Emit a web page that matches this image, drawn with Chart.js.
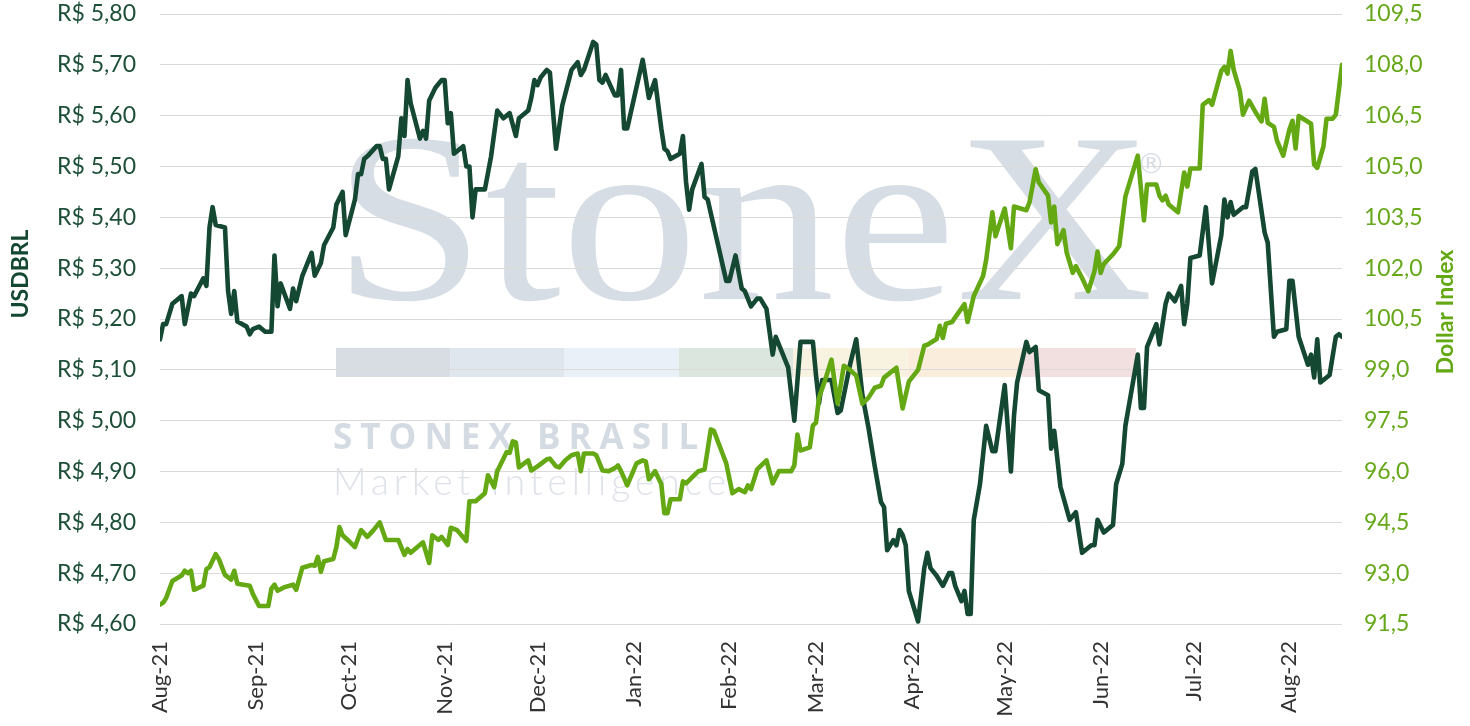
<!DOCTYPE html>
<html>
<head>
<meta charset="utf-8">
<title>USDBRL x Dollar Index</title>
<script src="https://cdn.jsdelivr.net/npm/chart.js@4.4.1/dist/chart.umd.min.js"></script>
<style>
  html, body { margin: 0; padding: 0; background: #ffffff; }
  #wrap { width: 1470px; height: 726px; }
</style>
</head>
<body>
<div id="wrap"><canvas id="chart" width="1470" height="726"></canvas></div>
<script>
// x axis: month labels and where they sit
const monthStarts = ["2021-08-01", "2021-09-01", "2021-10-01", "2021-11-01", "2021-12-01", "2022-01-01",
    "2022-02-01", "2022-03-01", "2022-04-01", "2022-05-01", "2022-06-01", "2022-07-01", "2022-08-01"]
const monthLabels = ["Aug-21", "Sep-21", "Oct-21", "Nov-21", "Dec-21", "Jan-22",
    "Feb-22", "Mar-22", "Apr-22", "May-22", "Jun-22", "Jul-22", "Aug-22"]

// USDBRL (left axis, R$)
const brlDates = [
    "2021-08-01", "2021-08-02", "2021-08-03", "2021-08-05", "2021-08-08", "2021-08-09", "2021-08-11", "2021-08-12",
    "2021-08-15", "2021-08-16", "2021-08-17", "2021-08-18", "2021-08-19", "2021-08-22", "2021-08-23", "2021-08-24",
    "2021-08-25", "2021-08-26", "2021-08-29", "2021-08-30", "2021-08-31", "2021-09-02", "2021-09-04", "2021-09-06",
    "2021-09-07", "2021-09-08", "2021-09-09", "2021-09-12", "2021-09-13", "2021-09-14", "2021-09-16", "2021-09-19",
    "2021-09-20", "2021-09-22", "2021-09-23", "2021-09-26", "2021-09-27", "2021-09-29", "2021-09-30", "2021-10-03",
    "2021-10-04", "2021-10-05", "2021-10-06", "2021-10-07", "2021-10-10", "2021-10-11", "2021-10-12", "2021-10-13",
    "2021-10-14", "2021-10-17", "2021-10-18", "2021-10-19", "2021-10-20", "2021-10-21", "2021-10-24", "2021-10-25",
    "2021-10-26", "2021-10-27", "2021-10-29", "2021-10-31", "2021-11-01", "2021-11-02", "2021-11-03", "2021-11-04",
    "2021-11-07", "2021-11-08", "2021-11-09", "2021-11-10", "2021-11-11", "2021-11-14", "2021-11-16", "2021-11-18",
    "2021-11-20", "2021-11-22", "2021-11-24", "2021-11-25", "2021-11-28", "2021-11-29", "2021-11-30", "2021-12-01",
    "2021-12-02", "2021-12-04", "2021-12-05", "2021-12-07", "2021-12-09", "2021-12-12", "2021-12-14", "2021-12-15",
    "2021-12-16", "2021-12-19", "2021-12-20", "2021-12-21", "2021-12-22", "2021-12-23", "2021-12-26", "2021-12-27",
    "2021-12-28", "2021-12-29", "2021-12-30", "2022-01-04", "2022-01-06", "2022-01-08", "2022-01-10", "2022-01-11",
    "2022-01-12", "2022-01-13", "2022-01-16", "2022-01-17", "2022-01-18", "2022-01-19", "2022-01-20", "2022-01-23",
    "2022-01-24", "2022-01-25", "2022-01-28", "2022-01-31", "2022-02-01", "2022-02-03", "2022-02-05", "2022-02-06",
    "2022-02-08", "2022-02-10", "2022-02-11", "2022-02-13", "2022-02-15", "2022-02-16", "2022-02-18", "2022-02-20",
    "2022-02-22", "2022-02-24", "2022-02-28", "2022-03-01", "2022-03-02", "2022-03-03", "2022-03-06", "2022-03-08",
    "2022-03-09", "2022-03-12", "2022-03-14", "2022-03-16", "2022-03-18", "2022-03-20", "2022-03-22", "2022-03-23",
    "2022-03-24", "2022-03-26", "2022-03-27", "2022-03-28", "2022-03-29", "2022-03-30", "2022-03-31", "2022-04-03",
    "2022-04-05", "2022-04-06", "2022-04-07", "2022-04-09", "2022-04-11", "2022-04-13", "2022-04-14", "2022-04-15",
    "2022-04-17", "2022-04-18", "2022-04-19", "2022-04-20", "2022-04-21", "2022-04-23", "2022-04-25", "2022-04-27",
    "2022-04-28", "2022-05-01", "2022-05-03", "2022-05-04", "2022-05-05", "2022-05-08", "2022-05-09", "2022-05-11",
    "2022-05-12", "2022-05-15", "2022-05-16", "2022-05-17", "2022-05-19", "2022-05-22", "2022-05-24", "2022-05-26",
    "2022-05-29", "2022-05-30", "2022-05-31", "2022-06-02", "2022-06-05", "2022-06-06", "2022-06-08", "2022-06-09",
    "2022-06-13", "2022-06-14", "2022-06-15", "2022-06-16", "2022-06-19", "2022-06-20", "2022-06-22", "2022-06-23",
    "2022-06-25", "2022-06-27", "2022-06-28", "2022-06-29", "2022-06-30", "2022-07-03", "2022-07-05", "2022-07-07",
    "2022-07-10", "2022-07-11", "2022-07-12", "2022-07-13", "2022-07-14", "2022-07-17", "2022-07-18", "2022-07-20",
    "2022-07-21", "2022-07-24", "2022-07-25", "2022-07-27", "2022-07-28", "2022-07-31", "2022-08-01", "2022-08-02",
    "2022-08-04", "2022-08-07", "2022-08-08", "2022-08-09", "2022-08-10", "2022-08-11", "2022-08-14", "2022-08-16",
    "2022-08-17", "2022-08-18"]
const brlValues = [
    5.16, 5.19, 5.19, 5.23, 5.245, 5.19, 5.25, 5.245,
    5.28, 5.265, 5.38, 5.42, 5.385, 5.38, 5.255, 5.21,
    5.255, 5.195, 5.185, 5.17, 5.18, 5.185, 5.175, 5.175,
    5.325, 5.225, 5.27, 5.22, 5.26, 5.235, 5.285, 5.33,
    5.285, 5.31, 5.345, 5.38, 5.425, 5.45, 5.365, 5.435,
    5.485, 5.485, 5.515, 5.52, 5.54, 5.54, 5.515, 5.515,
    5.455, 5.52, 5.595, 5.56, 5.67, 5.625, 5.555, 5.57,
    5.555, 5.63, 5.655, 5.67, 5.67, 5.585, 5.605, 5.525,
    5.54, 5.50, 5.50, 5.40, 5.455, 5.455, 5.52, 5.61,
    5.595, 5.605, 5.56, 5.595, 5.61, 5.635, 5.67, 5.66,
    5.675, 5.69, 5.685, 5.535, 5.62, 5.69, 5.705, 5.68,
    5.69, 5.745, 5.74, 5.67, 5.665, 5.68, 5.64, 5.64,
    5.69, 5.575, 5.575, 5.71, 5.635, 5.67, 5.575, 5.535,
    5.53, 5.515, 5.525, 5.56, 5.47, 5.415, 5.455, 5.505,
    5.44, 5.435, 5.355, 5.275, 5.275, 5.325, 5.26, 5.255,
    5.225, 5.24, 5.24, 5.22, 5.13, 5.165, 5.135, 5.105,
    5.00, 5.155, 5.155, 5.09, 5.035, 5.08, 5.08, 5.015,
    5.02, 5.11, 5.16, 5.05, 4.985, 4.91, 4.84, 4.83,
    4.745, 4.765, 4.755, 4.785, 4.775, 4.755, 4.665, 4.605,
    4.71, 4.74, 4.71, 4.695, 4.675, 4.70, 4.70, 4.675,
    4.645, 4.665, 4.62, 4.62, 4.805, 4.875, 4.99, 4.94,
    4.94, 5.07, 4.90, 5.01, 5.075, 5.155, 5.135, 5.145,
    5.06, 5.05, 4.945, 4.98, 4.87, 4.805, 4.82, 4.74,
    4.755, 4.755, 4.805, 4.78, 4.795, 4.875, 4.915, 4.99,
    5.13, 5.025, 5.025, 5.145, 5.19, 5.15, 5.23, 5.25,
    5.235, 5.265, 5.19, 5.23, 5.32, 5.325, 5.42, 5.27,
    5.365, 5.435, 5.40, 5.43, 5.405, 5.42, 5.42, 5.49,
    5.495, 5.37, 5.35, 5.165, 5.175, 5.18, 5.275, 5.275,
    5.165, 5.11, 5.13, 5.085, 5.16, 5.075, 5.09, 5.165,
    5.17, 5.165]

// Dollar Index (right axis)
const dxyDates = [
    "2021-08-01", "2021-08-02", "2021-08-03", "2021-08-05", "2021-08-08", "2021-08-09", "2021-08-10", "2021-08-11",
    "2021-08-12", "2021-08-15", "2021-08-16", "2021-08-17", "2021-08-19", "2021-08-20", "2021-08-22", "2021-08-24",
    "2021-08-25", "2021-08-26", "2021-08-30", "2021-08-31", "2021-09-02", "2021-09-05", "2021-09-06", "2021-09-07",
    "2021-09-08", "2021-09-10", "2021-09-13", "2021-09-14", "2021-09-16", "2021-09-19", "2021-09-20", "2021-09-21",
    "2021-09-22", "2021-09-23", "2021-09-26", "2021-09-27", "2021-09-28", "2021-09-29", "2021-10-01", "2021-10-03",
    "2021-10-05", "2021-10-07", "2021-10-09", "2021-10-11", "2021-10-13", "2021-10-17", "2021-10-19", "2021-10-20",
    "2021-10-21", "2021-10-25", "2021-10-27", "2021-10-28", "2021-10-30", "2021-10-31", "2021-11-02", "2021-11-03",
    "2021-11-05", "2021-11-08", "2021-11-09", "2021-11-11", "2021-11-14", "2021-11-15", "2021-11-17", "2021-11-18",
    "2021-11-21", "2021-11-22", "2021-11-23", "2021-11-24", "2021-11-25", "2021-11-28", "2021-11-29", "2021-12-01",
    "2021-12-04", "2021-12-05", "2021-12-07", "2021-12-08", "2021-12-10", "2021-12-12", "2021-12-14", "2021-12-15",
    "2021-12-16", "2021-12-19", "2021-12-20", "2021-12-22", "2021-12-24", "2021-12-26", "2021-12-27", "2021-12-28",
    "2021-12-30", "2022-01-02", "2022-01-04", "2022-01-05", "2022-01-06", "2022-01-08", "2022-01-10", "2022-01-11",
    "2022-01-12", "2022-01-13", "2022-01-16", "2022-01-17", "2022-01-18", "2022-01-22", "2022-01-24", "2022-01-26",
    "2022-01-27", "2022-01-30", "2022-01-31", "2022-02-02", "2022-02-04", "2022-02-06", "2022-02-07", "2022-02-08",
    "2022-02-10", "2022-02-13", "2022-02-15", "2022-02-17", "2022-02-21", "2022-02-22", "2022-02-23", "2022-02-24",
    "2022-02-27", "2022-02-28", "2022-03-01", "2022-03-02", "2022-03-04", "2022-03-06", "2022-03-08", "2022-03-10",
    "2022-03-12", "2022-03-14", "2022-03-16", "2022-03-18", "2022-03-20", "2022-03-22", "2022-03-23", "2022-03-27",
    "2022-03-29", "2022-03-31", "2022-04-03", "2022-04-05", "2022-04-06", "2022-04-09", "2022-04-10", "2022-04-11",
    "2022-04-12", "2022-04-14", "2022-04-15", "2022-04-18", "2022-04-19", "2022-04-21", "2022-04-24", "2022-04-25",
    "2022-04-27", "2022-04-28", "2022-05-01", "2022-05-03", "2022-05-04", "2022-05-08", "2022-05-09", "2022-05-11",
    "2022-05-12", "2022-05-15", "2022-05-16", "2022-05-17", "2022-05-18", "2022-05-20", "2022-05-21", "2022-05-23",
    "2022-05-24", "2022-05-26", "2022-05-28", "2022-05-30", "2022-05-31", "2022-06-01", "2022-06-02", "2022-06-05",
    "2022-06-07", "2022-06-09", "2022-06-13", "2022-06-15", "2022-06-16", "2022-06-19", "2022-06-20", "2022-06-21",
    "2022-06-22", "2022-06-23", "2022-06-26", "2022-06-28", "2022-06-29", "2022-06-30", "2022-07-03", "2022-07-04",
    "2022-07-06", "2022-07-07", "2022-07-10", "2022-07-11", "2022-07-12", "2022-07-13", "2022-07-14", "2022-07-16",
    "2022-07-17", "2022-07-19", "2022-07-21", "2022-07-23", "2022-07-24", "2022-07-25", "2022-07-27", "2022-07-28",
    "2022-07-30", "2022-08-01", "2022-08-02", "2022-08-03", "2022-08-04", "2022-08-08", "2022-08-09", "2022-08-10",
    "2022-08-12", "2022-08-13", "2022-08-15", "2022-08-16", "2022-08-18"]
const dxyValues = [
    92.07, 92.13, 92.27, 92.77, 92.93, 93.07, 93.0, 93.07,
    92.51, 92.63, 93.12, 93.18, 93.56, 93.42, 92.95, 92.81,
    93.07, 92.69, 92.63, 92.39, 92.03, 92.03, 92.54, 92.66,
    92.48, 92.58, 92.66, 92.51, 93.16, 93.24, 93.22, 93.48,
    93.04, 93.35, 93.42, 93.77, 94.36, 94.12, 93.95, 93.77,
    94.27, 94.07, 94.27, 94.50, 93.98, 93.98, 93.54, 93.71,
    93.60, 93.91, 93.30, 94.12, 93.98, 94.07, 93.83, 94.34,
    94.27, 93.95, 95.12, 95.12, 95.36, 95.89, 95.54, 96.01,
    96.57, 96.55, 96.89, 96.86, 96.12, 96.33, 96.03, 96.15,
    96.36, 96.38, 96.15, 96.12, 96.33, 96.48, 96.53, 96.01,
    96.53, 96.53, 96.48, 96.03, 96.01, 96.10, 96.18, 96.01,
    95.59, 96.24, 96.33, 96.30, 95.77, 96.01, 95.63, 94.77,
    94.77, 95.18, 95.18, 95.71, 95.65, 96.01, 96.06, 97.24,
    97.20, 96.48, 96.24, 95.36, 95.48, 95.39, 95.59, 95.48,
    96.06, 96.33, 95.65, 96.01, 96.01, 96.18, 97.09, 96.62,
    96.71, 97.36, 97.44, 98.18, 98.71, 99.30, 98.00, 99.12,
    99.00, 98.83, 98.00, 98.18, 98.47, 98.53, 98.77, 99.06,
    97.86, 98.65, 99.00, 99.71, 99.74, 99.91, 100.30, 99.94,
    100.36, 100.41, 100.55, 100.94, 100.41, 101.18, 101.77, 102.24,
    103.65, 102.94, 103.76, 102.59, 103.82, 103.71, 103.94, 104.92,
    104.53, 104.14, 103.35, 103.82, 102.71, 103.12, 102.47, 101.86,
    102.06, 101.71, 101.32, 101.91, 102.49, 101.86, 102.12, 102.41,
    102.65, 104.12, 105.32, 103.41, 104.47, 104.47, 104.14, 104.0,
    104.14, 103.88, 103.65, 104.82, 104.41, 104.94, 104.94, 106.82,
    106.96, 106.82, 107.82, 107.94, 107.74, 108.41, 107.85, 107.23,
    106.53, 106.94, 106.61, 106.33, 107.0, 106.29, 106.17, 105.76,
    105.32, 106.09, 106.35, 105.53, 106.49, 106.26, 105.06, 104.96,
    105.59, 106.41, 106.41, 106.53, 108.0]

const DAY = 86400000
const origin = Date.UTC(2021, 7, 1)
function dayOf(s) {
    const [y, m, d] = s.split("-").map(Number)
    return (Date.UTC(y, m - 1, d) - origin) / DAY
}
const monthTicks = monthStarts.map(dayOf)
const lastDay = Math.max(dayOf(brlDates[brlDates.length - 1]), dayOf(dxyDates[dxyDates.length - 1]))

const darkGreen = "#144832"
const lightGreen = "#64a814"

// StoneX watermark and the two axis titles
const decorPlugin = {
    id: "decor",
    beforeDraw(chart) {
        const ctx = chart.ctx
        ctx.save()
        ctx.fillStyle = "#ffffff"
        ctx.fillRect(0, 0, chart.width, chart.height)

        ctx.fillStyle = "#d7dde4"
        ctx.save()
        ctx.translate(333, 299)
        ctx.scale(1.13, 1)
        ctx.font = "242px 'Liberation Serif'"
        ctx.fillText("StoneX", 0, 0)
        ctx.restore()
        ctx.font = "28px 'DejaVu Sans'"
        ctx.fillText("\u00AE", 1137, 173)

        const bar = ["#d8dde3", "#e0e6ed", "#e9f0f7", "#dbe6df", "#f8f2e0", "#fbeddb", "#f2dfdf"]
        bar.forEach((c, i) => {
            ctx.fillStyle = c
            ctx.fillRect(336 + i * 114.3, 348, 114.3, 29)
        })

        ctx.fillStyle = "#d5dbe2"
        ctx.font = "bold 35px 'Open Sans'"
        ctx.letterSpacing = "8px"
        ctx.fillText("STONEX BRASIL", 333, 449)
        ctx.fillStyle = "#dfe3e9"
        ctx.font = "300 37px Lato"
        ctx.letterSpacing = "5px"
        ctx.fillText("Market Intelligence", 333, 495)
        ctx.restore()
    },
    afterDraw(chart) {
        const ctx = chart.ctx
        ctx.save()
        ctx.textAlign = "center"
        ctx.textBaseline = "middle"
        ctx.font = "bold 23px Lato"
        ctx.fillStyle = darkGreen
        ctx.translate(21, 274)
        ctx.rotate(-Math.PI / 2)
        ctx.fillText("USDBRL", 0, 0)
        ctx.restore()

        ctx.save()
        ctx.textAlign = "center"
        ctx.textBaseline = "middle"
        ctx.font = "bold 23px Lato"
        ctx.fillStyle = lightGreen
        ctx.translate(1446, 312)
        ctx.rotate(-Math.PI / 2)
        ctx.fillText("Dollar Index", 0, 0)
        ctx.restore()
    },
}

// keep tick padding from pushing the plot down
function fixWidth(w) {
    return (scale) => {
        scale.width = w
        scale.paddingTop = 0
        scale.paddingBottom = 0
    }
}

Chart.defaults.font.family = "Lato"

new Chart(document.getElementById("chart"), {
    type: "line",
    data: {
        datasets: [
            {
                label: "Dollar Index",
                data: dxyDates.map((d, i) => ({ x: dayOf(d), y: dxyValues[i] })),
                yAxisID: "y1",
                borderColor: lightGreen,
                borderWidth: 4.6,
                pointRadius: 0,
                tension: 0,
                borderJoinStyle: "round",
                borderCapStyle: "round",
            },
            {
                label: "USDBRL",
                data: brlDates.map((d, i) => ({ x: dayOf(d), y: brlValues[i] })),
                yAxisID: "y",
                borderColor: darkGreen,
                borderWidth: 4.6,
                pointRadius: 0,
                tension: 0,
                borderJoinStyle: "round",
                borderCapStyle: "round",
            },
        ],
    },
    options: {
        responsive: false,
        animation: false,
        layout: { padding: { top: 14, left: 0, right: 0, bottom: 0 } },
        plugins: {
            legend: { display: false },
            tooltip: { enabled: false },
        },
        scales: {
            x: {
                type: "linear",
                min: 0,
                max: lastDay,
                afterBuildTicks: (scale) => {
                    scale.ticks = monthTicks.map((v) => ({ value: v }))
                },
                afterFit: (scale) => {
                    scale.height = 102
                },
                ticks: {
                    autoSkip: false,
                    minRotation: 90,
                    maxRotation: 90,
                    padding: 17,
                    color: "#333333",
                    font: { size: 22 },
                    callback: (value) => {
                        const i = monthTicks.indexOf(value)
                        return i >= 0 ? monthLabels[i] : ""
                    },
                },
                grid: { display: false, drawTicks: false },
                border: { display: false },
            },
            y: {
                position: "left",
                min: 4.6,
                max: 5.8,
                afterFit: fixWidth(160),
                ticks: {
                    stepSize: 0.1,
                    padding: 24,
                    color: "#1d4f38",
                    font: { size: 23 },
                    callback: (v) => "R$ " + v.toFixed(2).replace(".", ","),
                },
                grid: { color: "#dadada", lineWidth: 1, drawTicks: false },
                border: { display: false },
            },
            y1: {
                position: "right",
                min: 91.5,
                max: 109.5,
                afterFit: fixWidth(128),
                ticks: {
                    stepSize: 1.5,
                    padding: 22,
                    color: "#66a81a",
                    font: { size: 23 },
                    callback: (v) => v.toFixed(1).replace(".", ","),
                },
                grid: { display: false, drawTicks: false },
                border: { display: false },
            },
        },
    },
    plugins: [decorPlugin],
})
</script>
</body>
</html>
